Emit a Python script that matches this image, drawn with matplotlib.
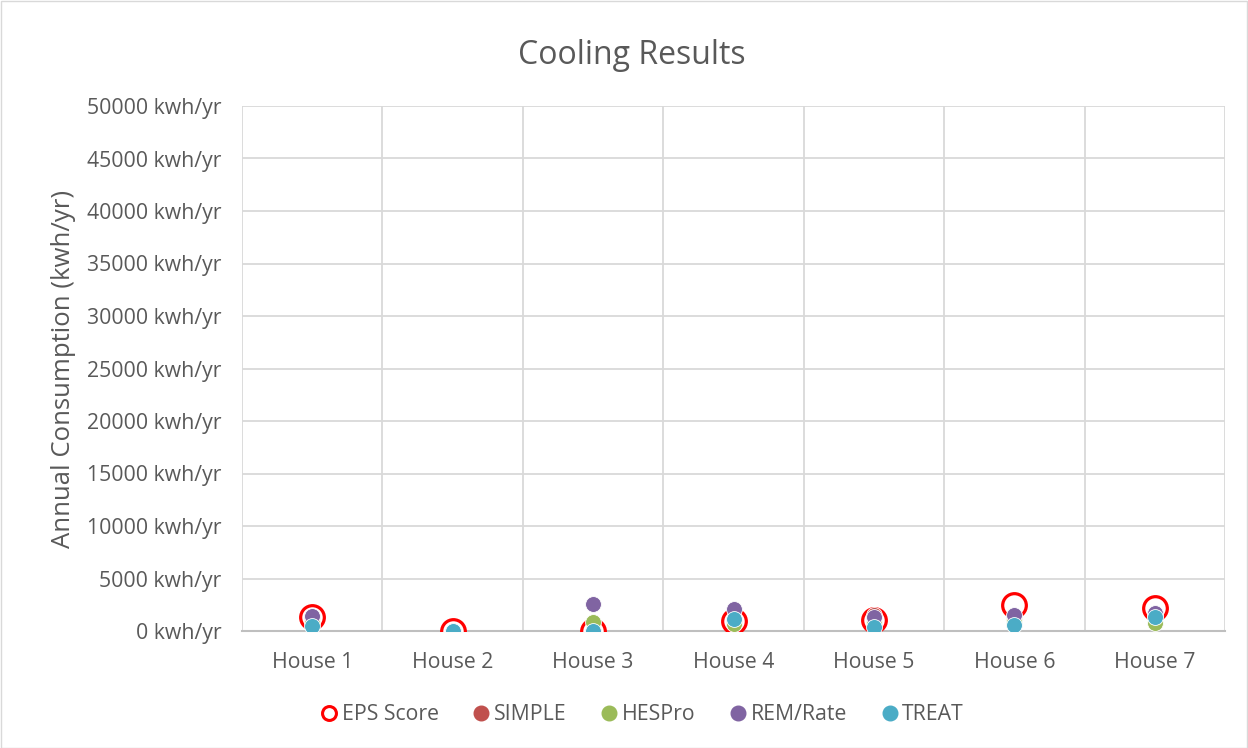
import matplotlib
matplotlib.use("Agg")
import matplotlib.pyplot as plt
from matplotlib.lines import Line2D
from matplotlib.patches import Rectangle

plt.rcParams['font.family'] = ['Open Sans', 'DejaVu Sans']

categories = ["House 1", "House 2", "House 3", "House 4", "House 5", "House 6", "House 7"]
eps_score = [1360, 0, 0, 950, 1050, 2480, 2160]
simple = [1300, 0, 0, 1000, 1520, 1200, 1500]
hespro = [900, 0, 830, 640, 900, 1000, 790]
remrate = [1450, 0, 2540, 2070, 1360, 1520, 1680]
treat = [480, 0, 0, 1140, 350, 570, 1360]
yticks = list(range(0, 50001, 5000))
ytick_labels = [f"{v} kwh/yr" for v in yticks]

W, H = 1248, 748
fig = plt.figure(figsize=(W / 100, H / 100), dpi=100)
ax = fig.add_axes([242 / W, 1 - 631 / H, (1225 - 242) / W, (631 - 106) / H])

x = list(range(1, len(categories) + 1))
txt = "#595959"

ax.scatter(x, eps_score, s=290, facecolors="white", edgecolors="#FF0000", linewidths=2.3, zorder=3, label="EPS Score")
series = [(simple, "#C0504D", "SIMPLE"), (hespro, "#9BBB59", "HESPro"),
          (remrate, "#8064A2", "REM/Rate"), (treat, "#4BACC6", "TREAT")]
for i, (vals, col, lab) in enumerate(series):
    ax.scatter(x, vals, s=130, color=col, edgecolors="white", linewidths=0.6, zorder=4 + i, label=lab)

ax.set_xlim(0.5, 7.5)
ax.set_ylim(0, 50000)
ax.set_yticks(yticks)
ax.set_yticklabels(ytick_labels, fontsize=15.3, color=txt)
ax.set_xticks(x)
ax.set_xticklabels(categories, fontsize=15.3, color=txt)
ax.set_xticks([i + 0.5 for i in range(0, 8)], minor=True)
ax.grid(True, which="minor", axis="x", color="#D9D9D9", linewidth=1.3)
ax.grid(True, which="major", axis="y", color="#D9D9D9", linewidth=1.3)
ax.tick_params(axis="y", which="both", length=0, pad=15)
ax.tick_params(axis="x", which="both", length=0, pad=15)
for s in ["top", "right", "left"]:
    ax.spines[s].set_visible(False)
ax.spines["bottom"].set_color("#BFBFBF")
ax.spines["bottom"].set_linewidth(1.5)
ax.set_axisbelow(True)

ax.set_ylabel("Annual Consumption (kwh/yr)", fontsize=18.5, color=txt)
ax.yaxis.set_label_coords((76 - 242) / (1225 - 242), 0.5)
fig.text(632 / W, 1 - 55 / H, "Cooling Results", ha="center", va="center", fontsize=23, color=txt)

handles = [Line2D([], [], marker="o", linestyle="none", markersize=10, markerfacecolor="white",
                  markeredgecolor="#FF0000", markeredgewidth=2.2)]
for vals, col, lab in series:
    handles.append(Line2D([], [], marker="o", linestyle="none", markersize=10.5, markerfacecolor=col,
                          markeredgecolor=col))
labels = ["EPS Score"] + [s[2] for s in series]
fig.legend(handles, labels, loc="center", bbox_to_anchor=(638 / W, 1 - 715 / H), ncol=5, frameon=False,
           fontsize=15.3, labelcolor=txt, handletextpad=-0.2, columnspacing=1.2, handlelength=1.6)

fig.patches.append(Rectangle((0.5 / W, 0.5 / H), 1 - 1.5 / W, 1 - 1.5 / H, transform=fig.transFigure,
                             fill=False, edgecolor="#D9D9D9", linewidth=1))

fig.savefig("out.png", dpi=100)
